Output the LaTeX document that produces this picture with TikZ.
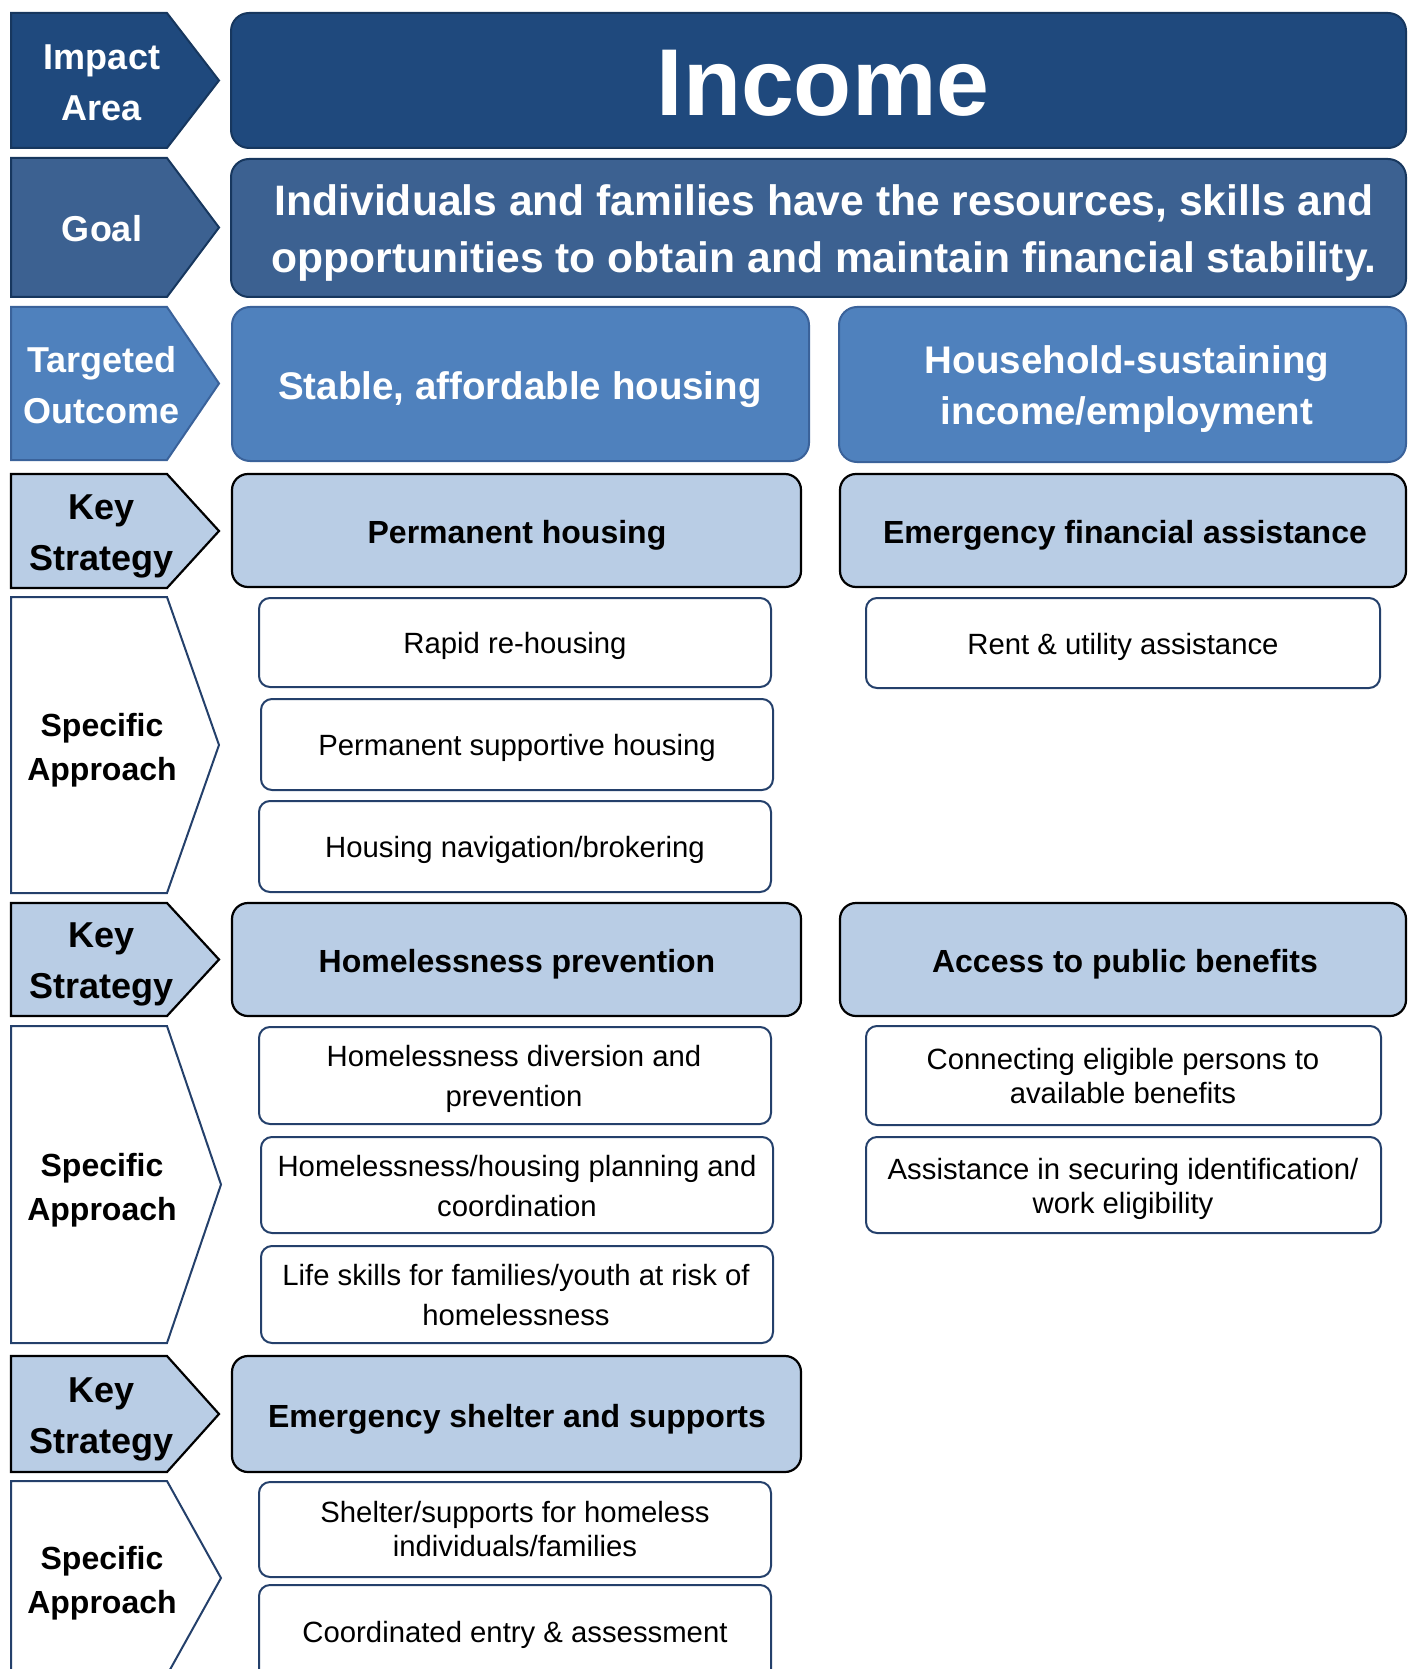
\documentclass[tikz,border=0pt]{standalone}
\usepackage{fontspec}
\setmainfont{Liberation Sans}

\definecolor{areablue}{HTML}{1F497D}
\definecolor{arealine}{HTML}{17375E}
\definecolor{goalblue}{HTML}{3C6191}
\definecolor{outblue}{HTML}{4F81BD}
\definecolor{outedge}{HTML}{3A629A}
\definecolor{keyblue}{HTML}{B9CDE5}
\definecolor{appline}{HTML}{24406B}

\tikzset{
  areashape/.style={fill=areablue, draw=arealine, line width=2pt},
  goalshape/.style={fill=goalblue, draw=arealine, line width=2pt},
  outshape/.style={fill=outblue, draw=outedge, line width=2pt},
  keyshape/.style={fill=keyblue, draw=black, line width=2.2pt},
  specshape/.style={fill=white, draw=appline, line width=2pt},
  appshape/.style={fill=white, draw=appline, line width=2pt, rounded corners=11pt},
  tagtext/.style={align=center, text depth=0pt, inner sep=0pt,
    font=\fontsize{36}{51}\selectfont\bfseries},
  spectext/.style={align=center, text depth=0pt, inner sep=0pt,
    font=\fontsize{32}{44}\selectfont\bfseries},
  outtext/.style={align=center, text depth=0pt, inner sep=0pt, text=white,
    font=\fontsize{38.5}{51}\selectfont\bfseries},
  keytext/.style={align=center, text depth=0pt, inner sep=0pt,
    font=\fontsize{32}{40}\selectfont\bfseries},
  apptext/.style={align=center, text depth=0pt, inner sep=0pt,
    font=\fontsize{29.3}{34}\selectfont},
  widetext/.style={apptext, font=\fontsize{29.3}{40}\selectfont},
}

\begin{document}
\begin{tikzpicture}[x=1pt,y=-1pt]

\useasboundingbox (0,0) rectangle (1407,1669);
\clip (0,0) rectangle (1407,1669);

% impact area
\draw[areashape] (11,13) -- (167,13) -- (219,80.5) -- (167,148) -- (11,148) -- cycle;
\draw[areashape, rounded corners=18pt] (231,13) rectangle (1406,148);
\node[tagtext, text=white] (impact) at (102,83) {Impact\\Area};
\node[text=white, inner sep=0pt, font=\fontsize{95}{95}\selectfont\bfseries] (income) at (823,83) {Income};

% goal
\draw[goalshape] (11,158) -- (167,158) -- (219,227.5) -- (167,297) -- (11,297) -- cycle;
\draw[goalshape, rounded corners=18pt] (231,159) rectangle (1406,297);
\node[tagtext, text=white] (goal) at (102,228) {Goal};
\node[align=center, text depth=0pt, inner sep=0pt, text=white,
  font=\fontsize{42.6}{57}\selectfont\bfseries] (goaltext) at (824,229)
  {Individuals and families have the resources, skills and\\
   opportunities to obtain and maintain financial stability.};

% targeted outcome
\draw[outshape] (11,307) -- (167,307) -- (219,383.5) -- (167,460) -- (11,460) -- cycle;
\draw[outshape, rounded corners=18pt] (232,307) rectangle (809,461);
\draw[outshape, rounded corners=18pt] (839,307) rectangle (1406,462);
\node[tagtext, text=white] (targeted) at (102,385) {Targeted\\Outcome};
\node[outtext] (stable) at (520,386) {Stable, affordable housing};
\node[outtext] (household) at (1127,385) {Household-sustaining\\income/employment};

% key strategy 1
\draw[keyshape] (11,474) -- (167,474) -- (219,531) -- (167,588) -- (11,588) -- cycle;
\draw[keyshape, rounded corners=16pt] (232,474) rectangle (801,587);
\draw[keyshape, rounded corners=16pt] (840,474) rectangle (1406,587);
\node[tagtext] (keyone) at (102,533) {Key\\Strategy};
\node[keytext] (permhousing) at (517,532) {Permanent housing};
\node[keytext] (emergfin) at (1125,532) {Emergency financial assistance};

% specific approach 1
\draw[specshape] (11,597) -- (167,597) -- (219,745) -- (167,893) -- (11,893) -- cycle;
\node[spectext] (specone) at (102,747) {Specific\\Approach};
\draw[appshape] (259,598) rectangle (771,687);
\draw[appshape] (261,699) rectangle (773,790);
\draw[appshape] (259,801) rectangle (771,892);
\draw[appshape] (866,598) rectangle (1380,688);
\node[apptext] (rapid) at (515,643) {Rapid re-housing};
\node[apptext] (supportive) at (517,745) {Permanent supportive housing};
\node[apptext] (navigation) at (515,847) {Housing navigation/brokering};
\node[apptext] (rent) at (1123,644) {Rent \& utility assistance};

% key strategy 2
\draw[keyshape] (11,903) -- (167,903) -- (219,959.5) -- (167,1016) -- (11,1016) -- cycle;
\draw[keyshape, rounded corners=16pt] (232,903) rectangle (801,1016);
\draw[keyshape, rounded corners=16pt] (840,903) rectangle (1406,1016);
\node[tagtext] (keytwo) at (102,961) {Key\\Strategy};
\node[keytext] (prevention) at (517,961) {Homelessness prevention};
\node[keytext] (benefits) at (1125,961) {Access to public benefits};

% specific approach 2
\draw[specshape] (11,1026) -- (167,1026) -- (221,1184.5) -- (167,1343) -- (11,1343) -- cycle;
\node[spectext] (spectwo) at (102,1187) {Specific\\Approach};
\draw[appshape] (259,1027) rectangle (771,1124);
\draw[appshape] (261,1137) rectangle (773,1233);
\draw[appshape] (261,1246) rectangle (773,1343);
\draw[appshape] (866,1026) rectangle (1381,1125);
\draw[appshape] (866,1137) rectangle (1381,1233);
\node[widetext] (diversion) at (514,1076)
  {Homelessness diversion and\\prevention};
\node[widetext] (planning) at (517,1186)
  {Homelessness/housing planning and\\coordination};
\node[widetext] (lifeskills) at (516,1295)
  {Life skills for families/youth at risk of\\homelessness};
\node[apptext] (connecting) at (1123,1076) {Connecting eligible persons to\\available benefits};
\node[apptext] (identification) at (1123,1186) {Assistance in securing identification/\\work eligibility};

% key strategy 3
\draw[keyshape] (11,1356) -- (167,1356) -- (219,1414) -- (167,1472) -- (11,1472) -- cycle;
\draw[keyshape, rounded corners=16pt] (232,1356) rectangle (801,1472);
\node[tagtext] (keythree) at (102,1416) {Key\\Strategy};
\node[keytext] (shelter) at (517,1416) {Emergency shelter and supports};

% specific approach 3
\draw[specshape] (11,1481) -- (167,1481) -- (221,1578) -- (167,1675) -- (11,1675) -- cycle;
\node[spectext] (specthree) at (102,1580) {Specific\\Approach};
\draw[appshape] (259,1482) rectangle (771,1577);
\draw[appshape] (259,1585) rectangle (771,1690);
\node[apptext] (supports) at (515,1529) {Shelter/supports for homeless\\individuals/families};
\node[apptext] (entry) at (515,1632) {Coordinated entry \& assessment};

\end{tikzpicture}
\end{document}
